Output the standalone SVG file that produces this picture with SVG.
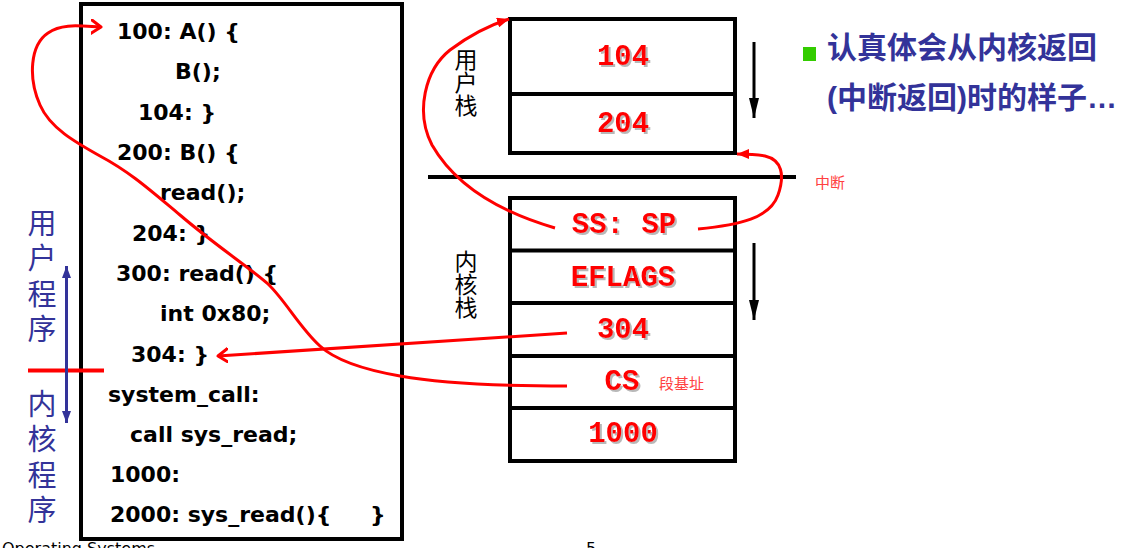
<svg xmlns="http://www.w3.org/2000/svg" width="1122" height="548" viewBox="0 0 1122 548">
<style>
.box{fill:#fff;stroke:#000;stroke-width:4}
.code{font-family:"DejaVu Sans","Liberation Sans",sans-serif;font-weight:bold;font-size:22px;fill:#000}
.vl{font-family:"Noto Sans CJK SC",sans-serif;font-size:29px;fill:#333399;writing-mode:vertical-rl;letter-spacing:6.5px}
.sl{font-family:"Noto Sans CJK SC",sans-serif;font-size:23px;fill:#000;writing-mode:vertical-rl}
.st{font-family:"Liberation Mono","Courier New",monospace;font-weight:bold;font-size:29px;fill:#ff0000;text-anchor:middle;filter:url(#sh)}
.note{font-family:"Noto Sans CJK SC",sans-serif;font-size:15px;fill:#ff4040}
.title{font-family:"Liberation Sans","Noto Sans CJK SC",sans-serif;font-weight:bold;font-size:30px;fill:#333399}
.red{fill:none;stroke:#ff0000;stroke-width:3}
.foot{font-family:"DejaVu Sans",sans-serif;font-size:16px;fill:#000}
</style>
<defs>
<filter id="sh" x="-10%" y="-10%" width="130%" height="140%">
<feDropShadow dx="2" dy="2" stdDeviation="0.6" flood-color="#888" flood-opacity="0.6"/>
</filter>
<marker id="openV" markerUnits="userSpaceOnUse" viewBox="0 0 12 16" markerWidth="12" markerHeight="16" refX="10" refY="8" orient="auto">
<path d="M0,1 L10,8 L0,15" fill="none" stroke="#ff0000" stroke-width="3" stroke-linecap="round" stroke-linejoin="round"/>
</marker>
<marker id="redTri" markerUnits="userSpaceOnUse" viewBox="0 0 12 10" markerWidth="12" markerHeight="10" refX="12" refY="5" orient="auto">
<path d="M0,0 L12,5 L0,10 z" fill="#ff0000"/>
</marker>
<marker id="blueTri" markerUnits="userSpaceOnUse" viewBox="0 0 12 9" markerWidth="12" markerHeight="9" refX="12" refY="4.5" orient="auto-start-reverse">
<path d="M0,0 L12,4.5 L0,9 z" fill="#333399"/>
</marker>
<marker id="blkTri" markerUnits="userSpaceOnUse" viewBox="0 0 20 10" markerWidth="20" markerHeight="10" refX="20" refY="5" orient="auto">
<path d="M0,0 L20,5 L0,10 z" fill="#000"/>
</marker>
</defs>
<rect width="1122" height="548" fill="#fff"/>

<g id="footer">
<text class="foot" x="2" y="554">Operating Systems</text>
<text class="foot" x="586" y="554">5</text>
</g>

<g id="code-box">
<rect class="box" x="81" y="4" width="321" height="535"/>
<text class="code" x="117" y="39">100: A() {</text>
<text class="code" x="175" y="79">B();</text>
<text class="code" x="138" y="120">104: }</text>
<text class="code" x="117" y="160">200: B() {</text>
<text class="code" x="160" y="200">read();</text>
<text class="code" x="132" y="241">204: }</text>
<text class="code" x="116" y="281">300: read() {</text>
<text class="code" x="160" y="321">int 0x80;</text>
<text class="code" x="131" y="362">304: }</text>
<text class="code" x="108" y="402">system_call:</text>
<text class="code" x="130" y="442">call sys_read;</text>
<text class="code" x="110" y="482">1000:</text>
<text class="code" x="110" y="522">2000: sys_read(){<tspan x="370">}</tspan></text>
</g>

<g id="mode-labels">
<text class="vl" x="42" y="208">用户程序</text>
<text class="vl" x="42" y="389">内核程序</text>
<line x1="28" y1="370.5" x2="104" y2="370.5" stroke="#ff0000" stroke-width="4"/>
<line x1="66.5" y1="266" x2="66.5" y2="423" stroke="#333399" stroke-width="3" marker-start="url(#blueTri)" marker-end="url(#blueTri)"/>
</g>

<g id="user-stack">
<rect class="box" x="510" y="19" width="225" height="134"/>
<line x1="510" y1="94" x2="735" y2="94" stroke="#000" stroke-width="4"/>
<text class="st" x="623" y="65">104</text>
<text class="st" x="623" y="132">204</text>
<text class="sl" x="466" y="48">用户栈</text>
<line x1="754" y1="42" x2="754" y2="118" stroke="#000" stroke-width="3" marker-end="url(#blkTri)"/>
</g>

<g id="divider">
<line x1="428" y1="177" x2="796" y2="177" stroke="#000" stroke-width="4"/>
</g>

<g id="kernel-stack">
<rect class="box" x="510" y="198" width="225" height="263"/>
<line x1="510" y1="250.5" x2="735" y2="250.5" stroke="#000" stroke-width="4"/>
<line x1="510" y1="303" x2="735" y2="303" stroke="#000" stroke-width="4"/>
<line x1="510" y1="356" x2="735" y2="356" stroke="#000" stroke-width="4"/>
<line x1="510" y1="408" x2="735" y2="408" stroke="#000" stroke-width="4"/>
<text class="st" x="624" y="233">SS: SP</text>
<text class="st" x="623" y="286">EFLAGS</text>
<text class="st" x="623" y="338">304</text>
<text class="st" x="622" y="390">CS</text>
<text class="st" x="623" y="442">1000</text>
<text class="sl" x="466" y="250">内核栈</text>
<line x1="754" y1="243" x2="754" y2="320" stroke="#000" stroke-width="3" marker-end="url(#blkTri)"/>
<text class="note" x="659" y="389">段基址</text>
</g>

<g id="interrupt-note">
<text class="note" x="815" y="188">中断</text>
</g>

<g id="title">
<rect x="803" y="47" width="13" height="14" fill="#33cc00"/>
<text class="title" x="827" y="58">认真体会从内核返回</text>
<text class="title" x="827" y="108">(中断返回)时的样子…</text>
</g>

<g id="connectors">
<path class="red" d="M567,386 C520,386 445,384 400,376 C360,369 335,360 320,346 C300,328 285,300 268,284 C250,268 215,245 180,215 C150,190 130,172 100,156 C75,142 50,128 40,105 C28,78 30,45 48,33 C62,23 80,26 101,27" marker-end="url(#openV)"/>
<path class="red" d="M567,333 L218,356" marker-end="url(#openV)"/>
<path class="red" d="M555,228 C500,212 455,185 432,145 C415,112 425,70 450,50 C470,35 490,25 509,19" marker-end="url(#redTri)"/>
<path class="red" d="M698,229 C740,225 770,218 778,195 C785,175 782,160 765,156 C755,154 745,154 737,154" marker-end="url(#redTri)"/>
</g>
</svg>
